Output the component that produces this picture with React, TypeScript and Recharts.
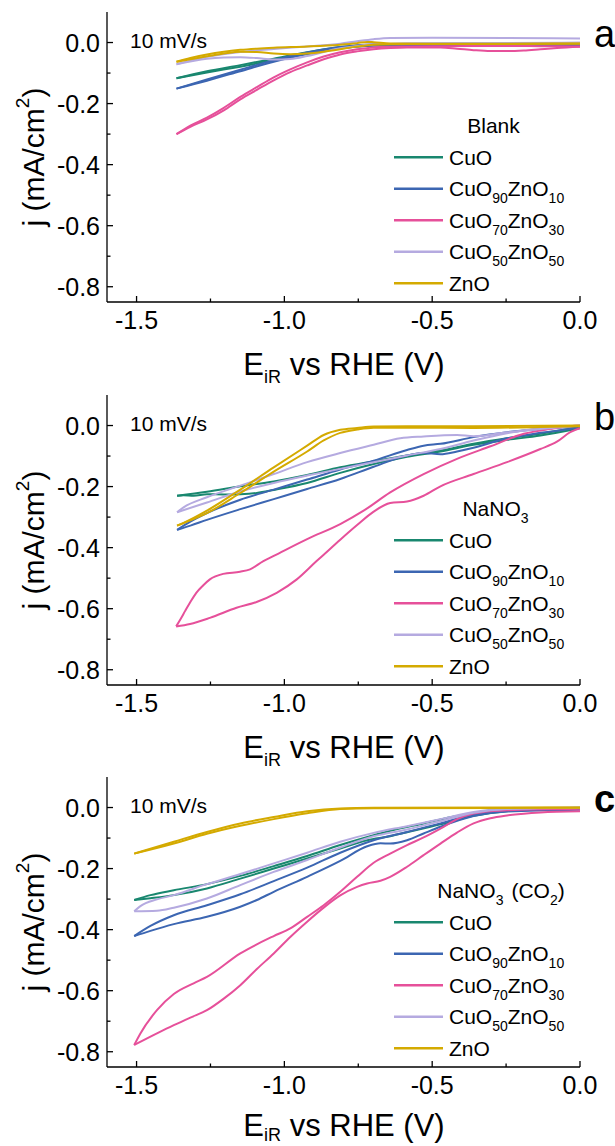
import React from 'react';
import { LineChart, Line, XAxis, YAxis, Legend, Customized } from 'recharts';

type Pt = [number, number];

// ---------- Panel a (Blank) ----------
const aCuO_lo: Pt[] = [[-1.365,-0.117],[-1.262,-0.098],[-1.149,-0.079],[-1.036,-0.058],[-0.923,-0.037],[-0.811,-0.019],[-0.698,-0.010],[-0.585,-0.008],[-0.472,-0.008],[-0.247,-0.007],[0,-0.006]];
const aCuO_up: Pt[] = [[-1.365,-0.117],[-1.262,-0.094],[-1.149,-0.074],[-1.036,-0.053],[-0.923,-0.032],[-0.811,-0.015],[-0.698,-0.007],[-0.585,-0.005],[-0.360,-0.004],[0,-0.004]];
const aC90_lo: Pt[] = [[-1.365,-0.151],[-1.262,-0.125],[-1.149,-0.094],[-1.036,-0.063],[-0.923,-0.038],[-0.811,-0.019],[-0.698,-0.010],[-0.585,-0.008],[-0.360,-0.009],[0,-0.010]];
const aC90_up: Pt[] = [[-1.365,-0.151],[-1.262,-0.121],[-1.149,-0.089],[-1.036,-0.058],[-0.923,-0.033],[-0.811,-0.015],[-0.698,-0.006],[-0.585,-0.004],[-0.360,-0.004],[0,-0.006]];
const aC70_lo: Pt[] = [[-1.365,-0.300],[-1.318,-0.276],[-1.262,-0.252],[-1.205,-0.222],[-1.149,-0.186],[-1.093,-0.155],[-1.036,-0.124],[-0.980,-0.097],[-0.923,-0.075],[-0.867,-0.055],[-0.811,-0.039],[-0.754,-0.029],[-0.698,-0.022],[-0.642,-0.018],[-0.585,-0.016],[-0.472,-0.016],[-0.416,-0.020],[-0.360,-0.025],[-0.303,-0.028],[-0.247,-0.028],[-0.190,-0.026],[-0.134,-0.022],[-0.078,-0.018],[0,-0.014]];
const aC70_up: Pt[] = [[-1.365,-0.300],[-1.318,-0.272],[-1.262,-0.246],[-1.205,-0.214],[-1.149,-0.178],[-1.093,-0.146],[-1.036,-0.114],[-0.980,-0.088],[-0.923,-0.065],[-0.867,-0.046],[-0.811,-0.032],[-0.754,-0.022],[-0.698,-0.016],[-0.585,-0.013],[-0.472,-0.012],[-0.360,-0.011],[-0.247,-0.011],[-0.134,-0.012],[0,-0.013]];
const aC50_lo: Pt[] = [[-1.365,-0.071],[-1.262,-0.053],[-1.205,-0.049],[-1.149,-0.048],[-1.093,-0.051],[-1.036,-0.056],[-0.980,-0.054],[-0.923,-0.044],[-0.867,-0.031],[-0.811,-0.019],[-0.754,-0.011],[-0.698,-0.006],[-0.585,-0.003],[-0.360,-0.002],[0,0.000]];
const aC50_up: Pt[] = [[-1.365,-0.071],[-1.262,-0.047],[-1.149,-0.031],[-1.036,-0.021],[-0.923,-0.013],[-0.811,-0.004],[-0.754,0.004],[-0.698,0.011],[-0.642,0.015],[-0.500,0.016],[-0.250,0.015],[0,0.013]];
const aZnO_lo: Pt[] = [[-1.365,-0.063],[-1.318,-0.055],[-1.262,-0.045],[-1.205,-0.036],[-1.149,-0.030],[-1.093,-0.031],[-1.036,-0.036],[-0.980,-0.038],[-0.923,-0.036],[-0.867,-0.030],[-0.811,-0.022],[-0.754,-0.013],[-0.698,-0.007],[-0.585,-0.005],[-0.360,-0.005],[0,-0.004]];
const aZnO_up: Pt[] = [[-1.365,-0.063],[-1.318,-0.051],[-1.262,-0.039],[-1.205,-0.030],[-1.149,-0.024],[-1.093,-0.020],[-1.036,-0.017],[-0.923,-0.013],[-0.811,-0.007],[-0.754,-0.002],[-0.720,0.002],[-0.698,0.001],[-0.642,-0.003],[-0.500,-0.004],[-0.250,-0.004],[0,-0.003]];

// ---------- Panel b (NaNO3) ----------
const bCuO_up: Pt[] = [[-1.363,-0.230],[-1.262,-0.217],[-1.149,-0.199],[-1.036,-0.183],[-0.923,-0.162],[-0.811,-0.137],[-0.698,-0.117],[-0.585,-0.098],[-0.472,-0.082],[-0.360,-0.060],[-0.247,-0.042],[-0.134,-0.027],[0,-0.005]];
const bCuO_lo: Pt[] = [[-1.363,-0.230],[-1.341,-0.228],[-1.307,-0.230],[-1.262,-0.225],[-1.205,-0.226],[-1.149,-0.225],[-1.093,-0.221],[-1.036,-0.211],[-0.923,-0.188],[-0.811,-0.155],[-0.698,-0.126],[-0.585,-0.102],[-0.472,-0.085],[-0.360,-0.063],[-0.247,-0.047],[-0.134,-0.033],[0,-0.009]];
const bC90_up: Pt[] = [[-1.363,-0.342],[-1.318,-0.315],[-1.262,-0.287],[-1.149,-0.243],[-1.036,-0.210],[-0.923,-0.177],[-0.811,-0.144],[-0.698,-0.115],[-0.585,-0.080],[-0.529,-0.066],[-0.472,-0.060],[-0.360,-0.038],[-0.247,-0.022],[-0.134,-0.011],[0,-0.003]];
const bC90_lo: Pt[] = [[-1.363,-0.342],[-1.318,-0.328],[-1.262,-0.309],[-1.149,-0.274],[-1.036,-0.241],[-0.923,-0.208],[-0.811,-0.175],[-0.698,-0.135],[-0.585,-0.098],[-0.529,-0.090],[-0.472,-0.094],[-0.416,-0.085],[-0.360,-0.073],[-0.247,-0.042],[-0.134,-0.024],[0,-0.007]];
const bC70_up: Pt[] = [[-1.366,-0.658],[-1.350,-0.632],[-1.336,-0.608],[-1.318,-0.578],[-1.298,-0.548],[-1.275,-0.524],[-1.252,-0.504],[-1.207,-0.486],[-1.150,-0.479],[-1.116,-0.471],[-1.071,-0.444],[-1.036,-0.427],[-0.923,-0.372],[-0.811,-0.323],[-0.732,-0.279],[-0.642,-0.219],[-0.529,-0.159],[-0.416,-0.109],[-0.303,-0.068],[-0.190,-0.027],[-0.100,-0.011],[-0.033,-0.002],[0,0.000]];
const bC70_lo: Pt[] = [[-1.366,-0.658],[-1.319,-0.650],[-1.252,-0.630],[-1.162,-0.597],[-1.094,-0.578],[-1.026,-0.548],[-0.958,-0.504],[-0.891,-0.444],[-0.867,-0.423],[-0.811,-0.374],[-0.754,-0.326],[-0.698,-0.282],[-0.642,-0.254],[-0.585,-0.249],[-0.529,-0.230],[-0.472,-0.199],[-0.360,-0.159],[-0.247,-0.120],[-0.134,-0.077],[-0.078,-0.053],[-0.033,-0.022],[0,-0.009]];
const bC50_up: Pt[] = [[-1.363,-0.284],[-1.341,-0.268],[-1.262,-0.235],[-1.149,-0.197],[-1.036,-0.159],[-0.923,-0.120],[-0.811,-0.090],[-0.698,-0.063],[-0.608,-0.042],[-0.529,-0.036],[-0.416,-0.031],[-0.360,-0.035],[-0.247,-0.022],[-0.134,-0.011],[0,0.000]];
const bC50_lo: Pt[] = [[-1.363,-0.284],[-1.262,-0.252],[-1.149,-0.216],[-1.036,-0.188],[-0.923,-0.164],[-0.811,-0.142],[-0.698,-0.120],[-0.585,-0.098],[-0.472,-0.077],[-0.360,-0.049],[-0.247,-0.025],[-0.134,-0.009],[0,0.000]];
const bZnO_1: Pt[] = [[-1.363,-0.328],[-1.341,-0.319],[-1.262,-0.279],[-1.149,-0.210],[-1.036,-0.137],[-0.923,-0.066],[-0.867,-0.031],[-0.811,-0.014],[-0.754,-0.008],[-0.698,-0.003],[-0.585,-0.002],[-0.360,-0.002],[0,0.000]];
const bZnO_2: Pt[] = [[-1.363,-0.328],[-1.329,-0.315],[-1.262,-0.287],[-1.149,-0.221],[-1.036,-0.151],[-0.923,-0.085],[-0.867,-0.049],[-0.811,-0.024],[-0.754,-0.013],[-0.698,-0.007],[-0.585,-0.007],[-0.360,-0.008],[-0.134,-0.005],[0,-0.002]];

// ---------- Panel c (NaNO3 + CO2) ----------
const cCuO_up: Pt[] = [[-1.508,-0.303],[-1.453,-0.287],[-1.374,-0.271],[-1.262,-0.251],[-1.149,-0.224],[-1.036,-0.192],[-0.923,-0.159],[-0.811,-0.123],[-0.698,-0.091],[-0.642,-0.076],[-0.529,-0.052],[-0.416,-0.028],[-0.360,-0.020],[-0.247,-0.007],[0,-0.001]];
const cCuO_lo: Pt[] = [[-1.508,-0.303],[-1.453,-0.297],[-1.374,-0.287],[-1.262,-0.265],[-1.149,-0.233],[-1.036,-0.200],[-0.923,-0.167],[-0.811,-0.134],[-0.720,-0.107],[-0.642,-0.094],[-0.585,-0.081],[-0.472,-0.055],[-0.360,-0.027],[-0.247,-0.012],[0,-0.004]];
const cC90_up: Pt[] = [[-1.508,-0.421],[-1.453,-0.388],[-1.374,-0.353],[-1.262,-0.320],[-1.149,-0.284],[-1.036,-0.241],[-0.923,-0.197],[-0.811,-0.148],[-0.698,-0.107],[-0.585,-0.080],[-0.472,-0.052],[-0.360,-0.022],[-0.247,-0.009],[0,-0.003]];
const cC90_lo: Pt[] = [[-1.508,-0.421],[-1.453,-0.404],[-1.374,-0.382],[-1.262,-0.358],[-1.149,-0.325],[-1.093,-0.303],[-1.036,-0.276],[-0.923,-0.227],[-0.811,-0.175],[-0.720,-0.127],[-0.675,-0.117],[-0.642,-0.118],[-0.585,-0.107],[-0.529,-0.085],[-0.472,-0.063],[-0.360,-0.028],[-0.247,-0.013],[0,-0.007]];
const cC70_up: Pt[] = [[-1.508,-0.778],[-1.487,-0.740],[-1.431,-0.664],[-1.374,-0.611],[-1.307,-0.576],[-1.262,-0.555],[-1.149,-0.478],[-1.036,-0.421],[-0.980,-0.396],[-0.923,-0.358],[-0.867,-0.320],[-0.811,-0.276],[-0.754,-0.227],[-0.698,-0.181],[-0.642,-0.151],[-0.585,-0.123],[-0.529,-0.098],[-0.472,-0.069],[-0.416,-0.038],[-0.360,-0.020],[-0.303,-0.012],[-0.247,-0.009],[0,-0.004]];
const cC70_lo: Pt[] = [[-1.508,-0.778],[-1.431,-0.740],[-1.374,-0.713],[-1.318,-0.688],[-1.262,-0.664],[-1.205,-0.626],[-1.149,-0.582],[-1.093,-0.529],[-1.036,-0.478],[-0.980,-0.424],[-0.923,-0.374],[-0.867,-0.328],[-0.811,-0.288],[-0.754,-0.260],[-0.720,-0.249],[-0.675,-0.240],[-0.642,-0.227],[-0.585,-0.194],[-0.529,-0.156],[-0.472,-0.118],[-0.416,-0.082],[-0.360,-0.052],[-0.303,-0.035],[-0.247,-0.026],[-0.190,-0.020],[-0.134,-0.016],[0,-0.012]];
const cC50_up: Pt[] = [[-1.508,-0.340],[-1.487,-0.323],[-1.431,-0.301],[-1.374,-0.287],[-1.262,-0.251],[-1.149,-0.218],[-1.036,-0.183],[-0.923,-0.148],[-0.811,-0.112],[-0.698,-0.083],[-0.585,-0.061],[-0.472,-0.038],[-0.360,-0.015],[-0.247,-0.004],[0,0.000]];
const cC50_lo: Pt[] = [[-1.508,-0.340],[-1.431,-0.338],[-1.374,-0.328],[-1.262,-0.298],[-1.149,-0.254],[-1.036,-0.211],[-0.923,-0.172],[-0.811,-0.131],[-0.698,-0.094],[-0.585,-0.072],[-0.472,-0.045],[-0.360,-0.017],[-0.247,-0.005],[0,-0.001]];
const cZnO_1: Pt[] = [[-1.508,-0.151],[-1.374,-0.112],[-1.262,-0.080],[-1.149,-0.052],[-1.036,-0.031],[-0.923,-0.012],[-0.811,-0.003],[-0.698,-0.001],[0,0.000]];
const cZnO_2: Pt[] = [[-1.508,-0.151],[-1.374,-0.118],[-1.262,-0.086],[-1.149,-0.060],[-1.036,-0.038],[-0.923,-0.019],[-0.811,-0.005],[-0.698,-0.002],[0,-0.001]];

// ---------- Series, ticks, labels ----------
const seriesLabels: string[][] = [['CuO'], ['CuO', '90', 'ZnO', '10'], ['CuO', '70', 'ZnO', '30'], ['CuO', '50', 'ZnO', '50'], ['ZnO']];
const seriesColors = ['#19876f', '#3c66b2', '#e6509a', '#b5aae0', '#d4aa00'];

const xTicks = [-1.5, -1.25, -1.0, -0.75, -0.5, -0.25, 0];
const xMajor = [-1.5, -1.0, -0.5, 0.0];
const yTicks = [-0.8, -0.7, -0.6, -0.5, -0.4, -0.3, -0.2, -0.1, 0];
const yMajor = [-0.8, -0.6, -0.4, -0.2, 0.0];
const xDomain: [number, number] = [-1.6, 0];
const yDomain: [number, number] = [-0.85, 0.1];

const panelA = [[aCuO_lo, aCuO_up], [aC90_lo, aC90_up], [aC70_lo, aC70_up], [aC50_lo, aC50_up], [aZnO_lo, aZnO_up]];
const panelB = [[bCuO_lo, bCuO_up], [bC90_lo, bC90_up], [bC70_lo, bC70_up], [bC50_lo, bC50_up], [bZnO_1, bZnO_2]];
const panelC = [[cCuO_lo, cCuO_up], [cC90_lo, cC90_up], [cC70_lo, cC70_up], [cC50_lo, cC50_up], [cZnO_1, cZnO_2]];

const FONT = '"Liberation Sans", Arial, Helvetica, sans-serif';
const AXIS_W = 1.3;
const PLOT_H = 290;

const toRows = (pts: Pt[]) => pts.map(([E, j]) => ({ E, j }));
const isMajor = (list: number[], v: number) => list.some((m) => Math.abs(m - v) < 1e-6);

const BottomTick = (props: any) => {
  const { x, y, payload } = props;
  const v = payload.value;
  const major = isMajor(xMajor, v);
  return (
    <g>
      <line x1={x} x2={x} y1={y} y2={y - (major ? 6 : 3.5)} stroke="#000" strokeWidth={AXIS_W} />
      {major && (
        <text x={x} y={y + 27} textAnchor="middle" fontSize={25} fontFamily={FONT} fill="#000">
          {v.toFixed(1)}
        </text>
      )}
    </g>
  );
};

const TopTick = (props: any) => {
  const { x, y, payload } = props;
  const major = isMajor(xMajor, payload.value);
  return <line x1={x} x2={x} y1={y} y2={y + (major ? 6 : 3.5)} stroke="#000" strokeWidth={AXIS_W} />;
};

const LeftTick = (props: any) => {
  const { x, y, payload } = props;
  const v = payload.value;
  const major = isMajor(yMajor, v);
  return (
    <g>
      <line x1={x} x2={x + (major ? 6 : 3.5)} y1={y} y2={y} stroke="#000" strokeWidth={AXIS_W} />
      {major && (
        <text x={x - 7} y={y + 9} textAnchor="end" fontSize={25} fontFamily={FONT} fill="#000">
          {v.toFixed(1)}
        </text>
      )}
    </g>
  );
};

const RightTick = (props: any) => {
  const { x, y, payload } = props;
  const major = isMajor(yMajor, payload.value);
  return <line x1={x} x2={x - (major ? 6 : 3.5)} y1={y} y2={y} stroke="#000" strokeWidth={AXIS_W} />;
};

const renderParts = (parts: string[], subSize: number, shift: number) =>
  parts.map((p, i) => {
    if (i % 2 === 1) {
      return (
        <tspan key={i} fontSize={subSize} dy={shift}>
          {p}
        </tspan>
      );
    }
    return (
      <tspan key={i} dy={i === 0 ? 0 : -shift} dx={p.startsWith(' ') ? 8 : 0}>
        {p.trim()}
      </tspan>
    );
  });

type PanelProps = {
  top: number;
  height: number;
  letter: string;
  bold: boolean;
  title: string[];
  titleX: number;
  titleBase: number;
  subShift: number;
  data: Pt[][][];
};

const LegendBox = ({ title, titleX }: { title: string[]; titleX: number }) => (
  <svg width={235} height={210} style={{ display: 'block', overflow: 'visible' }}>
    <text x={titleX} y={25 + 7.5} textAnchor="middle" fontSize={21} fontFamily={FONT} fill="#000">
      {renderParts(title, 14, 7)}
    </text>
    {seriesLabels.map((lab, i) => {
      const cy = 57.3 + 31.5 * i;
      return (
        <g key={i}>
          <line x1={14} x2={63} y1={cy} y2={cy} stroke={seriesColors[i]} strokeWidth={2.5} />
          <text x={69} y={cy + 7.5} fontSize={21} fontFamily={FONT} fill="#000">
            {renderParts(lab, 14, 7)}
          </text>
        </g>
      );
    })}
  </svg>
);

const Decor = ({ letter, bold, titleBase, subShift }: { letter: string; bold: boolean; titleBase: number; subShift: number }) => (
  <g>
    <text x={130} y={47.5} fontSize={21} fontFamily={FONT} fill="#000">
      10 mV/s
    </text>
    <text x={594} y={47} fontSize={38} fontFamily={FONT} fontWeight={bold ? 'bold' : 'normal'} fill="#000">
      {letter}
    </text>
    <text x={344} y={12 + PLOT_H + titleBase} textAnchor="middle" fontSize={31} fontFamily={FONT} fill="#000">
      <tspan>E</tspan>
      <tspan fontSize={18} dy={subShift}>iR</tspan>
      <tspan dy={-subShift}> vs RHE (V)</tspan>
    </text>
    <text
      x={33}
      y={157}
      transform="rotate(-90, 33, 157)"
      textAnchor="middle"
      dominantBaseline="central"
      fontSize={30}
      fontFamily={FONT}
      fill="#000"
    >
      <tspan>j (mA/cm</tspan>
      <tspan fontSize={19} dy={-11}>2</tspan>
      <tspan dy={11}>)</tspan>
    </text>
  </g>
);

const Panel = ({ top, height, letter, bold, title, titleX, titleBase, subShift, data }: PanelProps) => (
  <div style={{ position: 'absolute', left: 0, top, width: 615, height }}>
    <LineChart width={615} height={height} margin={{ top: 12, right: 35, bottom: 0, left: 0 }}>
      <XAxis
        xAxisId="b"
        dataKey="E"
        type="number"
        domain={xDomain}
        allowDataOverflow
        ticks={xTicks}
        interval={0}
        tickSize={0}
        tickMargin={0}
        tickLine={false}
        tick={(p: any) => <BottomTick {...p} />}
        axisLine={{ stroke: '#000', strokeWidth: AXIS_W }}
        height={height - 12 - PLOT_H}
      />
      <XAxis
        xAxisId="t"
        orientation="top"
        dataKey="E"
        type="number"
        domain={xDomain}
        allowDataOverflow
        ticks={xTicks}
        interval={0}
        tickSize={0}
        tickMargin={0}
        tickLine={false}
        tick={(p: any) => <TopTick {...p} />}
        axisLine={{ stroke: '#000', strokeWidth: AXIS_W }}
        height={0}
      />
      <YAxis
        yAxisId="l"
        type="number"
        domain={yDomain}
        allowDataOverflow
        ticks={yTicks}
        interval={0}
        tickSize={0}
        tickMargin={0}
        tickLine={false}
        tick={(p: any) => <LeftTick {...p} />}
        axisLine={{ stroke: '#000', strokeWidth: AXIS_W }}
        width={107}
      />
      <YAxis
        yAxisId="r"
        orientation="right"
        type="number"
        domain={yDomain}
        allowDataOverflow
        ticks={yTicks}
        interval={0}
        tickSize={0}
        tickMargin={0}
        tickLine={false}
        tick={(p: any) => <RightTick {...p} />}
        axisLine={{ stroke: '#000', strokeWidth: AXIS_W }}
        width={0}
      />
      {data.map((branches, si) =>
        branches.map((pts, bi) => (
          <Line
            key={`${si}-${bi}`}
            xAxisId="b"
            yAxisId="l"
            data={toRows(pts)}
            dataKey="j"
            type="monotoneX"
            stroke={seriesColors[si]}
            strokeWidth={2}
            dot={false}
            activeDot={false}
            legendType="none"
            isAnimationActive={false}
          />
        ))
      )}
      <Legend
        layout="vertical"
        align="center"
        verticalAlign="middle"
        wrapperStyle={{ left: 380, top: 100, width: 235, height: 210 }}
        content={() => <LegendBox title={title} titleX={titleX} />}
      />
      <Customized component={<Decor letter={letter} bold={bold} titleBase={titleBase} subShift={subShift} />} />
    </LineChart>
  </div>
);

export default function App() {
  return (
    <div style={{ position: 'absolute', left: 0, top: 0, width: 615, height: 1146, background: '#fff', overflow: 'hidden' }}>
      <Panel top={0} height={395} letter="a" bold={false} title={['Blank']} titleX={113.5} titleBase={73} subShift={8} data={panelA} />
      <Panel top={383} height={395} letter="b" bold={false} title={['NaNO', '3']} titleX={115.5} titleBase={73} subShift={8} data={panelB} />
      <Panel top={765} height={381} letter="c" bold={true} title={['NaNO', '3', '  (CO', '2', ')']} titleX={121} titleBase={69} subShift={5} data={panelC} />
    </div>
  );
}
